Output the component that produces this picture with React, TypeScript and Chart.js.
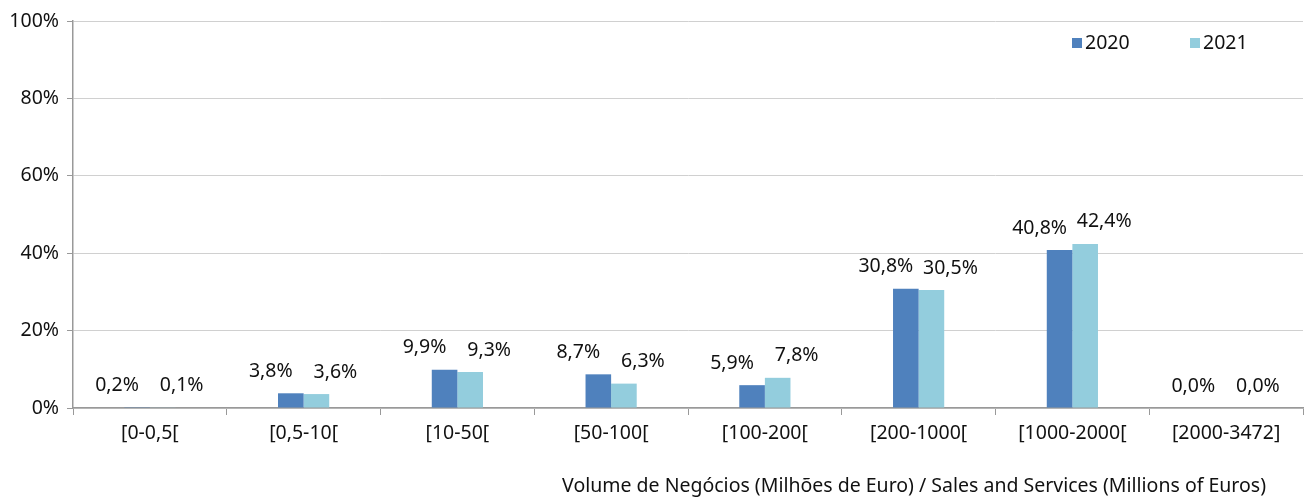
import React, { useEffect, useRef } from "react";
import { Chart, registerables } from "chart.js";

Chart.register(...registerables);

const categories = [
  "[0-0,5[",
  "[0,5-10[",
  "[10-50[",
  "[50-100[",
  "[100-200[",
  "[200-1000[",
  "[1000-2000[",
  "[2000-3472]",
];
const seriesNames = ["2020", "2021"];
const values2020 = [0.2, 3.8, 9.9, 8.7, 5.9, 30.8, 40.8, 0.0];
const values2021 = [0.1, 3.6, 9.3, 6.3, 7.8, 30.5, 42.4, 0.0];
const yTicks = [0, 20, 40, 60, 80, 100];
const xTitle =
  "Volume de Negócios (Milhões de Euro) / Sales and Services (Millions of Euros)";

const COLORS = ["#4F81BD", "#93CDDD"];
const FONT = "'Noto Sans', 'Open Sans', sans-serif";
const FS = 19.5;
const TEXT = "#111111";

const fmt = (v: number) => v.toFixed(1).replace(".", ",") + "%";

const overlayPlugin = {
  id: "overlay",
  afterDatasetsDraw(chart: any) {
    const ctx = chart.ctx;
    const area = chart.chartArea;
    ctx.save();
    ctx.font = `${FS}px ${FONT}`;
    ctx.fillStyle = TEXT;
    ctx.textBaseline = "middle";
    ctx.textAlign = "center";
    // data labels
    chart.data.datasets.forEach((ds: any, di: number) => {
      const meta = chart.getDatasetMeta(di);
      meta.data.forEach((bar: any, i: number) => {
        const v = ds.data[i];
        const dx = di === 0 ? -20 : 19;
        ctx.fillText(fmt(v), bar.x + dx, bar.y - 22);
      });
    });
    // legend
    const lx = area.right - 231;
    const ly = area.top + 22;
    chart.data.datasets.forEach((ds: any, di: number) => {
      const x = lx + di * 118;
      ctx.fillStyle = ds.backgroundColor;
      ctx.fillRect(x, ly - 5, 10, 10);
      ctx.fillStyle = TEXT;
      ctx.textAlign = "left";
      ctx.fillText(ds.label, x + 13, ly);
    });
    // x axis title
    ctx.textAlign = "right";
    ctx.fillStyle = TEXT;
    ctx.fillText(xTitle, chart.width - 45, 486);
    ctx.restore();
  },
};

export default function App() {
  const ref = useRef<HTMLCanvasElement | null>(null);
  useEffect(() => {
    if (!ref.current) return;
    const chart = new Chart(ref.current, {
      type: "bar",
      data: {
        labels: categories,
        datasets: [
          {
            label: seriesNames[0],
            data: values2020,
            backgroundColor: COLORS[0],
            categoryPercentage: 0.333,
            barPercentage: 1,
          },
          {
            label: seriesNames[1],
            data: values2021,
            backgroundColor: COLORS[1],
            categoryPercentage: 0.333,
            barPercentage: 1,
          },
        ],
      },
      options: {
        animation: false,
        responsive: true,
        maintainAspectRatio: false,
        layout: { padding: { left: 0, right: 8, top: 21, bottom: 0 } },
        plugins: {
          legend: { display: false },
          tooltip: { enabled: false },
        },
        scales: {
          x: {
            afterFit: (s: any) => {
              s.height = 90;
            },
            grid: {
              drawOnChartArea: false,
              offset: true,
              tickLength: 7,
              color: "#999999",
            },
            border: { color: "#999999", width: 1.5 },
            ticks: {
              font: { family: FONT, size: FS },
              color: TEXT,
              padding: 7,
              maxRotation: 0,
              autoSkip: false,
            },
          },
          y: {
            min: 0,
            max: 100,
            afterFit: (s: any) => {
              s.width = 73;
            },
            afterBuildTicks: (s: any) => {
              s.ticks = yTicks.map((v) => ({ value: v }));
            },
            grid: {
              color: "#d0d0d0",
              tickLength: 6,
              tickColor: "#999999",
            },
            border: { color: "#999999", width: 1.5 },
            ticks: {
              font: { family: FONT, size: FS },
              color: TEXT,
              padding: 8,
              callback: (v: any) => v + "%",
            },
          },
        },
      },
      plugins: [overlayPlugin],
    });
    return () => chart.destroy();
  }, []);
  return (
    <div
      style={{
        position: "fixed",
        left: 0,
        top: 0,
        width: 1311,
        height: 498,
        background: "#fff",
      }}
    >
      <canvas ref={ref} />
    </div>
  );
}
